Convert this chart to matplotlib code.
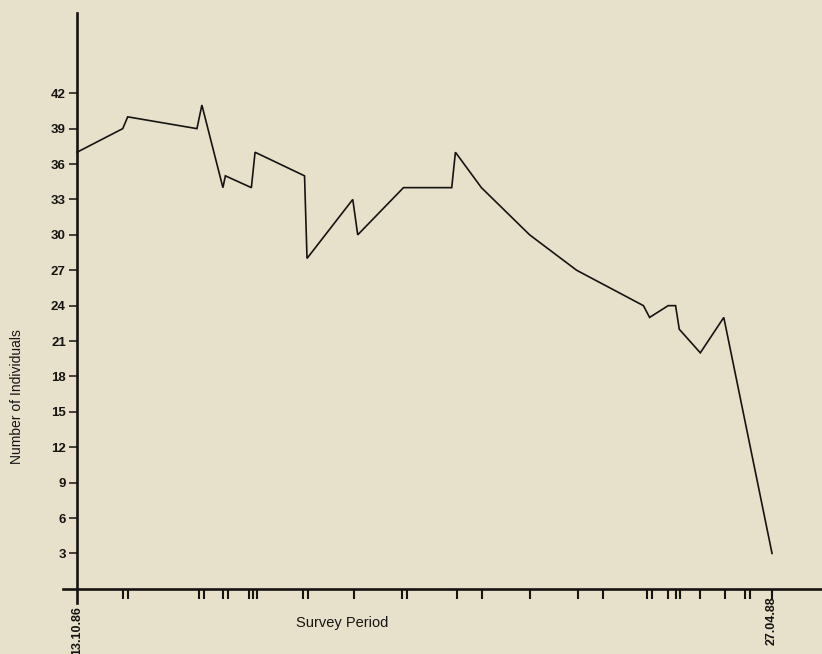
import matplotlib
matplotlib.use("Agg")
import matplotlib.pyplot as plt

# Survey counts: days since 13.10.86 and number of individuals counted
day = [0, 37, 41, 97, 101, 118, 120, 141, 144, 184, 186, 223, 227, 264,
       303, 306, 327, 366, 404, 458, 463, 478, 484, 487, 504, 523, 562]
individuals = [37, 39, 40, 39, 41, 34, 35, 34, 37, 35, 28, 33, 30, 34,
               34, 37, 34, 30, 27, 24, 23, 24, 24, 22, 20, 23, 3]

# Survey dates marked along the time axis (days since 13.10.86)
survey_days = [37, 41, 98.5, 102.5, 118, 122, 139, 142.5, 145.5, 182.5, 186.5,
               224, 263, 267, 307, 327.5, 366, 405, 425, 461, 465, 478, 484.5,
               487.5, 504, 524, 540, 544, 562]

y_ticks = list(range(3, 43, 3))
start_label = "13.10.86"
end_label = "27.04.88"

bg = "#e7e0ca"
ink = "#161412"

fig = plt.figure(figsize=(8.22, 6.54), dpi=100, facecolor=bg)
ax = fig.add_axes([63 / 822, 1 - 603 / 654, 1 - 63 / 822, (603 - 13) / 654])
ax.set_facecolor(bg)

ax.plot(day, individuals, color=ink, lw=1.2, solid_joinstyle="miter")

ax.set_xlim(-11.3, 602.4)
ax.set_ylim(-1.2, 48.8)

for side in ("top", "right"):
    ax.spines[side].set_visible(False)
for side in ("left", "bottom"):
    ax.spines[side].set_position(("data", 0))
    ax.spines[side].set_linewidth(1.9)
    ax.spines[side].set_color(ink)

ax.set_yticks(y_ticks)
ax.set_yticklabels([str(v) for v in y_ticks], fontfamily="Liberation Sans",
                   fontweight="bold", fontsize=9.5, color=ink)
ax.tick_params(axis="y", direction="out", length=6, width=1.1, pad=2, colors=ink)

ax.set_xticks(survey_days)
ax.set_xticklabels([])
ax.tick_params(axis="x", direction="out", length=7, width=1.5, colors=ink)

label_font = dict(fontfamily="Liberation Sans", color=ink)
ax.text(0, -1.45, start_label, rotation=90, ha="center", va="top",
        fontsize=9, fontweight="bold", **label_font)
ax.text(562, -0.6, end_label, rotation=90, ha="center", va="top",
        fontsize=9, fontweight="bold", **label_font)

fig.text(342 / 822, 1 - 623 / 654, "Survey Period", ha="center", va="center",
         fontsize=10.5, **label_font)
fig.text(17.5 / 822, 1 - 397 / 654, "Number of Individuals", rotation=90,
         ha="center", va="center", fontsize=10, **label_font)

fig.savefig("out.png", dpi=100, facecolor=bg)
